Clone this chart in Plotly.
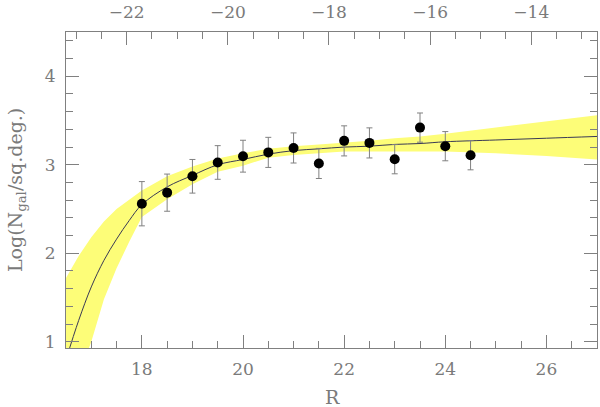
import plotly.graph_objects as go

# observed counts (R band)
r_obs = [18.0, 18.5, 19.0, 19.5, 20.0, 20.5, 21.0, 21.5, 22.0, 22.5, 23.0, 23.5, 24.0, 24.5]
logn_obs = [2.56, 2.685, 2.87, 3.026, 3.097, 3.14, 3.19, 3.015, 3.27, 3.247, 3.063, 3.42, 3.21, 3.108]
logn_err = [0.25, 0.21, 0.19, 0.19, 0.18, 0.17, 0.17, 0.17, 0.17, 0.17, 0.165, 0.165, 0.165, 0.165]

# model curve and its uncertainty band
r_model = [16.5, 16.75, 17.0, 17.25, 17.5, 17.75, 18.0, 18.5, 19.0, 19.5, 20.0, 20.5,
           21.0, 21.5, 22.0, 22.5, 23.0, 23.5, 24.0, 25.0, 26.0, 27.0]
logn_model = [0.80, 1.24, 1.62, 1.92, 2.16, 2.37, 2.55, 2.75, 2.88, 3.00, 3.06, 3.12,
              3.16, 3.18, 3.20, 3.21, 3.23, 3.24, 3.26, 3.28, 3.30, 3.32]
band_low = [0.30, 0.62, 1.00, 1.48, 1.83, 2.13, 2.41, 2.61, 2.78, 2.92, 2.99, 3.08,
            3.11, 3.13, 3.15, 3.15, 3.15, 3.15, 3.15, 3.13, 3.10, 3.06]
band_high = [1.72, 1.97, 2.18, 2.36, 2.50, 2.61, 2.71, 2.87, 2.98, 3.07, 3.13, 3.18,
             3.21, 3.23, 3.25, 3.27, 3.30, 3.32, 3.35, 3.42, 3.49, 3.56]

# apparent R -> absolute magnitude (top axis)
dist_mod = 39.7
r_range = [16.5, 27.0]

grey = "#808080"
txt = "#7a7a7a"
fnt = dict(family="DejaVu Serif", size=17, color=txt)
title_fnt = dict(family="DejaVu Serif", size=19, color=txt)

fig = go.Figure()
fig.add_trace(go.Scatter(x=r_model, y=band_low, mode="lines",
                         line=dict(width=0), hoverinfo="skip", showlegend=False))
fig.add_trace(go.Scatter(x=r_model, y=band_high, mode="lines", fill="tonexty",
                         fillcolor="#fdfd78", line=dict(width=0),
                         hoverinfo="skip", showlegend=False))
fig.add_trace(go.Scatter(x=r_model, y=logn_model, mode="lines",
                         line=dict(color="#3a3a55", width=1, shape="spline"),
                         showlegend=False))
fig.add_trace(go.Scatter(
    x=r_obs, y=logn_obs, mode="markers",
    marker=dict(color="black", size=10),
    error_y=dict(type="data", array=logn_err, color=grey, thickness=1, width=3),
    showlegend=False))
# dummy trace to hold the top axis
fig.add_trace(go.Scatter(x=[r_range[0] - dist_mod], y=[None], xaxis="x2",
                         mode="markers", showlegend=False, hoverinfo="skip"))

axis_common = dict(showgrid=False, zeroline=False, showline=True, linecolor=grey,
                   linewidth=1, ticks="inside", ticklen=13, tickcolor=grey,
                   tickfont=fnt, ticklabelstandoff=6)

fig.update_layout(
    width=600, height=407,
    margin=dict(l=66, r=2, t=28, b=59),
    paper_bgcolor="white", plot_bgcolor="white",
    xaxis=dict(range=r_range, tick0=0, dtick=2,
               minor=dict(dtick=0.5, ticks="inside", ticklen=7, tickcolor=grey),
               **axis_common),
    xaxis2=dict(range=[r_range[0] - dist_mod, r_range[1] - dist_mod],
                overlaying="x", side="top", tick0=0, dtick=2,
                minor=dict(dtick=0.5, ticks="inside", ticklen=7, tickcolor=grey),
                **axis_common),
    yaxis=dict(range=[0.93, 4.5], tick0=0, dtick=1, mirror="ticks",
               minor=dict(dtick=0.2, ticks="inside", ticklen=7, tickcolor=grey),
               **axis_common),
    annotations=[
        dict(text="Log(N<sub>gal</sub>/sq.deg.)", textangle=-90,
             xref="paper", yref="paper", x=-0.094, y=0.5,
             xanchor="center", yanchor="middle", showarrow=False, font=title_fnt),
        dict(text="R", xref="paper", yref="paper", x=(333 - 66) / 532, y=-50 / 320,
             xanchor="center", yanchor="middle", showarrow=False, font=title_fnt),
    ],
)

fig.write_html("out.html", config={"displayModeBar": False},
               post_script="document.body.style.margin='0';"
                           "document.body.style.overflow='hidden';")
